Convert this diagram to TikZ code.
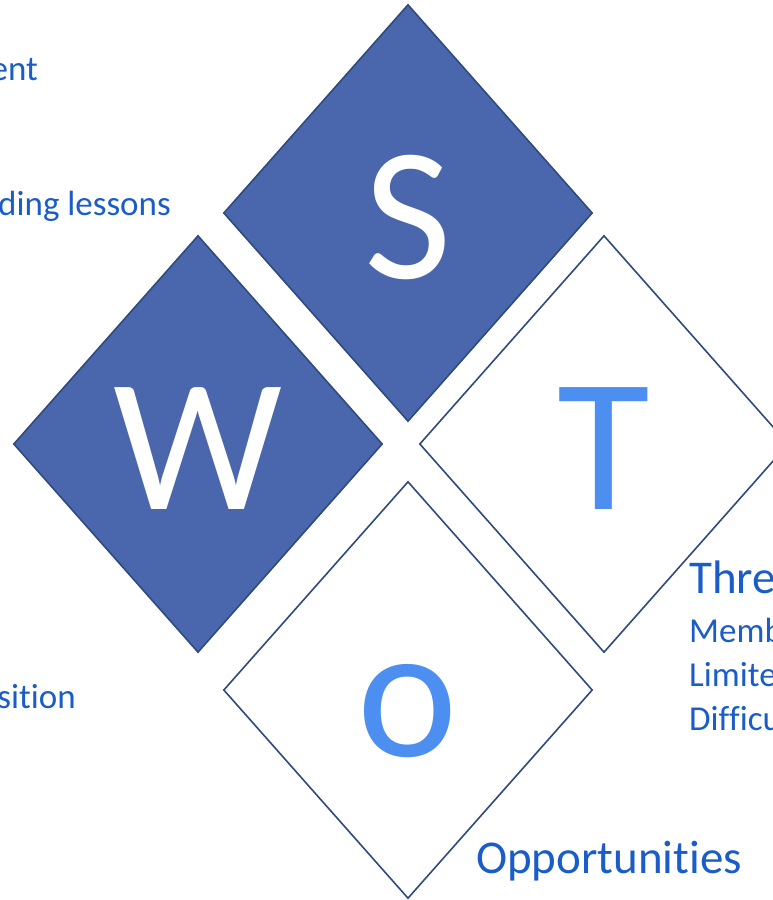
\documentclass[tikz,border=0pt]{standalone}
\usepackage{fontspec}
\setmainfont{Carlito}[Ligatures=NoCommon]
\usetikzlibrary{shapes.geometric}

\definecolor{swotfill}{HTML}{4A67AD}
\definecolor{swotedge}{HTML}{2F4A7E}
\definecolor{swotletter}{HTML}{4D8FF0}
\definecolor{swottext}{HTML}{1A5DC8}

\tikzset{
  quad/.style={diamond, draw=swotedge, line width=1.6pt, inner sep=0pt,
    minimum width=369pt, minimum height=417pt},
  letter/.style={anchor=base, inner sep=0pt, font=\fontsize{190}{190}\selectfont},
  head/.style={anchor=base west, inner sep=0pt, text=swottext,
    font=\fontsize{47}{47}\selectfont},
  item/.style={inner sep=0pt, text=swottext, font=\fontsize{35}{35}\selectfont},
}

\begin{document}
\begin{tikzpicture}[x=1pt,y=-1pt]
\useasboundingbox (0,0) rectangle (773,900);
\clip (0,0) rectangle (773,900);

% the four squares
\node [quad, fill=swotfill] (s) at (408,213) {};
\node [quad, fill=swotfill] (w) at (198,444) {};
\node [quad, fill=white] (t) at (604,444) {};
\node [quad, fill=white] (o) at (408,690) {};

\node [letter, text=white] (sl) at (408,278) {S};
\node [letter, text=white] (wl) at (198,509) {W};
\node [letter, text=swotletter] (tl) at (604,509) {T};
\node [letter, text=swotletter] (ol) at (408,756) {o};

% texts cut by the page edge
\node [item, anchor=base east] (s1) at (38,80) {ent};
\node [item, anchor=base east] (s2) at (171,215) {ding lessons};
\node [item, anchor=base east] (w1) at (76,708) {sition};

\node [head] (th) at (689,593) {Threats};
\node [item, anchor=base west] (t1) at (689,642) {Memb};
\node [item, anchor=base west] (t2) at (689,686) {Limite};
\node [item, anchor=base west] (t3) at (689,730) {Difficu};

\node [head] (oh) at (476,873) {Opportunities};

\end{tikzpicture}
\end{document}
